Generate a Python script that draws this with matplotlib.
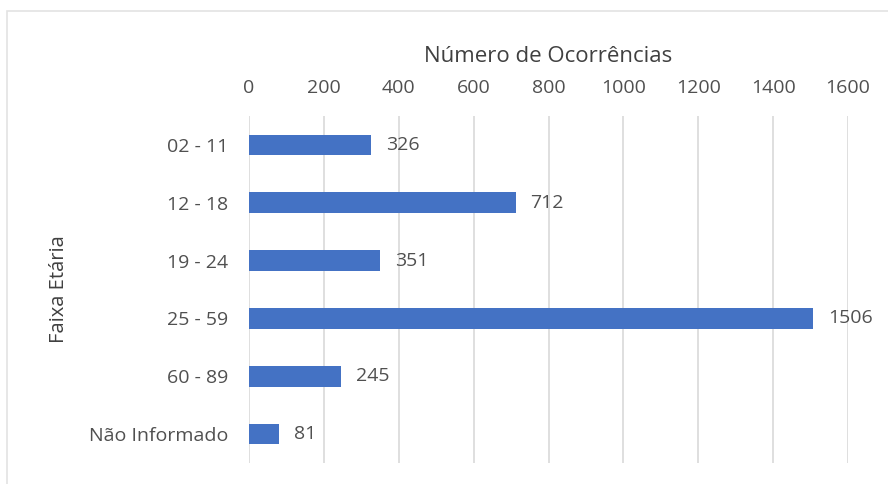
import matplotlib.pyplot as plt
from matplotlib.patches import Rectangle

categories = ["02 - 11", "12 - 18", "19 - 24", "25 - 59", "60 - 89", "Não Informado"]
values = [326, 712, 351, 1506, 245, 81]
x_ticks = [0, 200, 400, 600, 800, 1000, 1200, 1400, 1600]

BAR_COLOR = "#4472C4"
TEXT_COLOR = "#505050"
GRID_COLOR = "#D9D9D9"

plt.rcParams["font.family"] = ["Open Sans", "DejaVu Sans"]

fig = plt.figure(figsize=(8.88, 4.84), dpi=100)
ax = fig.add_axes([249 / 888, 1 - 463 / 484, (848 - 249) / 888, (463 - 116) / 484])

# light frame around the chart area (top and left edges visible)
fig.patches.append(Rectangle((7 / 888, -0.1), 1.2, 1 - 11 / 484 + 0.1,
                             transform=fig.transFigure, fill=False,
                             edgecolor="#E3E3E3", linewidth=1.2))

pos = list(range(len(categories)))
bars = ax.barh(pos, values, height=0.36, color=BAR_COLOR, zorder=3)

for bar, v in zip(bars, values):
    ax.text(bar.get_width() + 40, bar.get_y() + bar.get_height() / 2, str(v),
            va="center", ha="left", fontsize=14, color=TEXT_COLOR)

ax.set_xlim(0, 1600)
ax.set_ylim(len(categories) - 0.5, -0.5)
ax.set_xticks(x_ticks)
ax.set_yticks(pos)
ax.set_yticklabels(categories)
ax.xaxis.tick_top()
ax.xaxis.set_label_position("top")
ax.tick_params(axis="both", length=0, labelsize=14, colors=TEXT_COLOR)
ax.tick_params(axis="x", pad=14)
ax.tick_params(axis="y", pad=15)

ax.grid(axis="x", color=GRID_COLOR, linewidth=1.2, zorder=0)
for s in ax.spines.values():
    s.set_visible(False)

ax.set_xlabel("Número de Ocorrências", fontsize=16, color="#404040", labelpad=12)
fig.text(59 / 888, 1 - 289 / 484, "Faixa Etária", rotation=90, ha="center",
         va="center", fontsize=14.5, color="#404040")

fig.savefig("out.png", dpi=100)
